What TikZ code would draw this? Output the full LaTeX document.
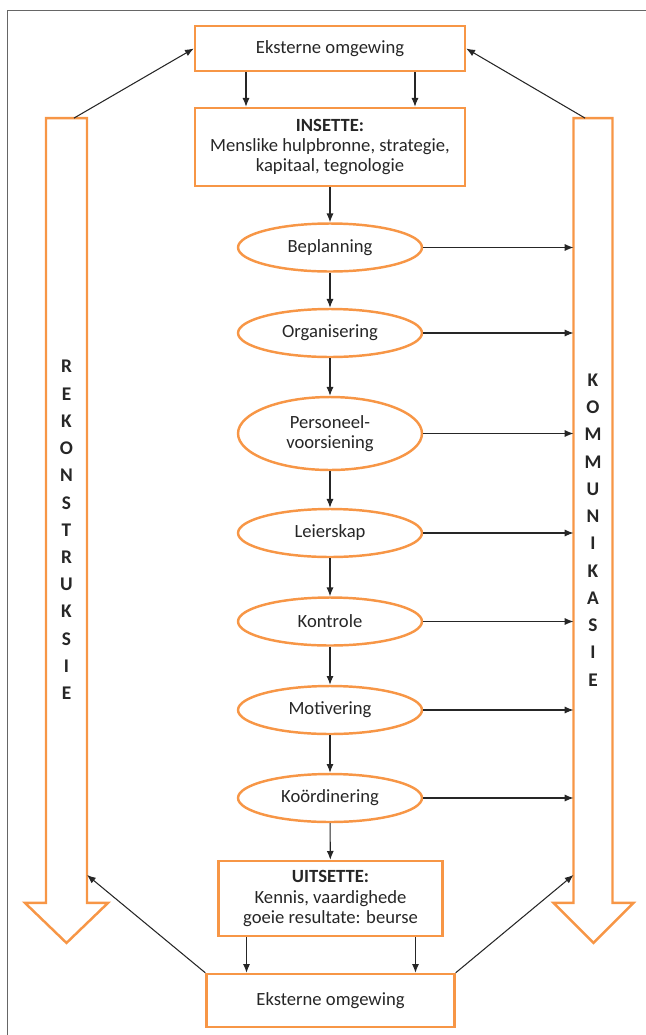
\documentclass[tikz,border=0pt]{standalone}
\usepackage{fontspec}
\setmainfont{Carlito}
\usetikzlibrary{shapes.geometric,arrows.meta}
\definecolor{oranje}{HTML}{F79646}
\definecolor{donker}{HTML}{262626}

\begin{document}
\begin{tikzpicture}[x=0.02cm, y=-0.02cm,
	blok/.style={draw=oranje, line width=1.4pt, minimum width=5.4cm, minimum height=0.9cm, align=center, text=donker, font=\fontsize{10.6}{11.4}\selectfont},
	ovaal/.style={ellipse, draw=oranje, line width=1.4pt, minimum width=3.68cm, minimum height=0.96cm, inner sep=0pt, align=center, text=donker, font=\fontsize{10.6}{11.4}\selectfont},
	skag/.style={minimum height=15.7cm, inner sep=0pt, outer sep=0pt},
	letters/.style={align=center, text=donker, font=\fontsize{11}{15.5}\selectfont\bfseries},
	pyl/.style={-{Latex[length=5pt,width=4pt]}, color=donker, line width=0.6pt}]

	\useasboundingbox (0,0) rectangle (646,1035);
	\draw[color=black!60, line width=0.6pt] (7.5,1035) -- (7.5,10.5) -- (646,10.5);

	% groot pyle links en regs
	\node[skag, minimum width=0.82cm] (rek) at (66.5,510.5) {};
	\node[skag, minimum width=0.78cm] (kom) at (593,510.5) {};
	\draw[draw=oranje, line width=1.4pt] (rek.south west) -- (rek.north west) -- (rek.north east) -- (rek.south east) -- ++(21,0) -- ++(-41.5,40) -- ++(-41.5,-40) -- cycle;
	\draw[draw=oranje, line width=1.4pt] (kom.south west) -- (kom.north west) -- (kom.north east) -- (kom.south east) -- ++(21,0) -- ++(-40,40) -- ++(-40,-40) -- cycle;
	\node[letters] (rekteks) at (66.5,530) {R\\E\\K\\O\\N\\S\\T\\R\\U\\K\\S\\I\\E};
	\node[letters] (komteks) at (593,530) {K\\O\\M\\M\\U\\N\\I\\K\\A\\S\\I\\E};

	% middel
	\node[blok] (omg1) at (330,48.5) {Eksterne omgewing};
	\node[blok, minimum height=1.56cm] (inset) at (330,147) {\textbf{INSETTE:}\\Menslike hulpbronne, strategie,\\kapitaal, tegnologie};
	\node[ovaal] (bep) at (330,247.5) {Beplanning};
	\node[ovaal] (org) at (330,333) {Organisering};
	\node[ovaal, minimum height=1.46cm] (pers) at (330,433.5) {Personeel-\\voorsiening};
	\node[ovaal] (leier) at (330,533) {Leierskap};
	\node[ovaal] (kontr) at (330,621.5) {Kontrole};
	\node[ovaal] (motiv) at (330,710) {Motivering};
	\node[ovaal] (koord) at (330,798) {Koördinering};
	\node[blok, minimum width=4.48cm, minimum height=1.5cm] (uit) at (330.5,898.5) {\textbf{UITSETTE:}\\Kennis, vaardighede\\goeie resultate: beurse};
	\node[blok, minimum width=4.96cm, minimum height=1.06cm] (omg2) at (330.5,1000.5) {Eksterne omgewing};

	\draw[pyl] ([xshift=-1.68cm]omg1.south) -- ([xshift=-1.68cm]inset.north);
	\draw[pyl] ([xshift=1.7cm]omg1.south) -- ([xshift=1.7cm]inset.north);
	\draw[pyl] (inset) -- (bep);
	\draw[pyl] (bep) -- (org);
	\draw[pyl] (org) -- (pers);
	\draw[pyl] (pers) -- (leier);
	\draw[pyl] (leier) -- (kontr);
	\draw[pyl] (kontr) -- (motiv);
	\draw[pyl] (motiv) -- (koord);
	\draw[pyl] (koord) -- (uit);
	\draw[pyl] ([xshift=-1.68cm]uit.south) -- ([xshift=-1.68cm]omg2.north);
	\draw[pyl] ([xshift=1.7cm]uit.south) -- ([xshift=1.7cm]omg2.north);

	\draw[pyl] (bep.east) -- (bep.east -| kom.west);
	\draw[pyl] (org.east) -- (org.east -| kom.west);
	\draw[pyl] (pers.east) -- (pers.east -| kom.west);
	\draw[pyl] (leier.east) -- (leier.east -| kom.west);
	\draw[pyl] (kontr.east) -- (kontr.east -| kom.west);
	\draw[pyl] (motiv.east) -- (motiv.east -| kom.west);
	\draw[pyl] (koord.east) -- (koord.east -| kom.west);

	\draw[pyl] ([xshift=0.15cm]rek.north) -- (omg1.west);
	\draw[pyl] ([xshift=-0.16cm]kom.north) -- (omg1.east);
	\draw[pyl] (omg2.north west) -- ([yshift=0.56cm]rek.south east);
	\draw[pyl] (omg2.north east) -- ([yshift=0.56cm]kom.south west);
\end{tikzpicture}
\end{document}
